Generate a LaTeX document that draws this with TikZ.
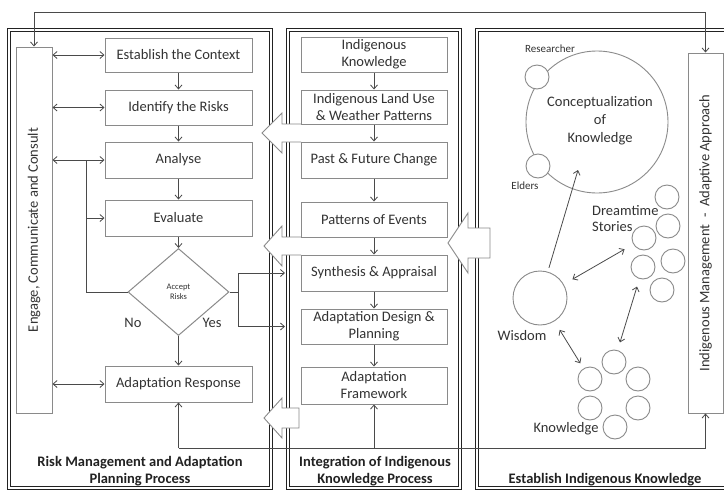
\documentclass[tikz,border=0pt]{standalone}
\usepackage{fontspec}
\setmainfont{Carlito}
\usetikzlibrary{arrows.meta,shapes.geometric}
\definecolor{txt}{HTML}{333333}
\definecolor{bx}{HTML}{8A8A8A}
\definecolor{pan}{HTML}{222222}
\definecolor{ln}{HTML}{4A4A4A}
\begin{document}
\begin{tikzpicture}[x=1pt,y=-1pt,
  font=\fontsize{14.5}{17}\selectfont,
  box/.style={draw=bx, line width=1pt, fill=white, text=txt, align=center, inner sep=0pt, minimum width=147pt},
  mbox/.style={box, minimum width=146pt},
  panel/.style={draw=pan, line width=0.9pt, double=white, double distance=1.5pt},
  arr/.style={draw=ln, line width=0.8pt, -{Straight Barb[length=4pt,width=7pt]}},
  darr/.style={draw=ln, line width=0.8pt, {Straight Barb[length=4pt,width=7pt]}-{Straight Barb[length=4pt,width=7pt]}},
  plain/.style={draw=ln, line width=0.8pt},
  blk/.style={draw=bx, line width=0.9pt, line join=miter},
  circ/.style={circle, draw=bx, line width=0.9pt, fill=white, inner sep=0pt},
  sc/.style={circ, minimum size=24pt},
  lbl/.style={text=txt, inner sep=0pt},
  small/.style={lbl, font=\fontsize{11}{13}\selectfont},
  ttl/.style={text=pan, font=\fontsize{14.5}{17}\selectfont\bfseries, align=center, inner sep=0pt}
]
\useasboundingbox (0,0) rectangle (724,493);
\fill[white] (0,0) rectangle (724,493);

% ---------- panels
\draw[panel] (9,30) rectangle (271,488);
\draw[panel] (288,30) rectangle (460,488);
\draw[panel] (727,30) -- (477,30) -- (477,488) -- (727,488);

% ---------- block arrows (hollow)
\fill[white] (301,124) -- (282,124) -- (282,113) -- (262,133) -- (282,153) -- (282,142) -- (301,142) -- cycle;
\draw[blk] (301,124) -- (282,124) -- (282,113) -- (262,133) -- (282,153) -- (282,142) -- (301,142);
\fill[white] (301,237) -- (282,237) -- (282,226) -- (264,246) -- (282,266) -- (282,255) -- (301,255) -- cycle;
\draw[blk] (301,237) -- (282,237) -- (282,226) -- (264,246) -- (282,266) -- (282,255) -- (301,255);
\filldraw[blk, fill=white] (299,408) -- (282,408) -- (282,398) -- (264,418) -- (282,438) -- (282,428) -- (299,428) -- cycle;
\filldraw[blk, fill=white] (490,228) -- (468,228) -- (468,213) -- (448,243) -- (468,273) -- (468,258) -- (490,258) -- cycle;

% ---------- left panel
\node[box, minimum width=36pt, minimum height=366pt] (eng) at (34,230) {};
\node[lbl, rotate=90] at (eng.center) {Engage, Communicate and Consult};
\node[box, minimum height=34pt] (ctx) at (178.5,55) {Establish the Context};
\node[box, minimum height=35pt] (risk) at (178.5,107.5) {Identify the Risks};
\node[box, minimum height=36pt] (ana) at (178.5,160) {Analyse};
\node[box, minimum height=36pt] (eva) at (178.5,218) {Evaluate};
\node[diamond, draw=bx, line width=1pt, fill=white, minimum width=101pt, minimum height=87pt,
      inner sep=0pt, align=center, text=txt, font=\fontsize{8.5}{10.5}\selectfont] (acc) at (178.5,292) {Accept\\Risks};
\node[box, minimum height=36pt] (resp) at (178.5,384) {Adaptation Response};

\draw[arr] (ctx) -- (risk);
\draw[arr] (risk) -- (ana);
\draw[arr] (ana) -- (eva);
\draw[arr] (eva) -- (acc);
\draw[arr] (acc) -- (resp);
\draw[darr] (eng.east |- ctx) -- (ctx.west);
\draw[darr] (eng.east |- risk) -- (risk.west);
\draw[darr] (eng.east |- ana) -- (ana.west);
\draw[darr] (eng.east |- resp) -- (resp.west);
\coordinate (nf) at (86,292);
\draw[plain] (acc.west) -- (nf) -- (nf |- ana);
\draw[arr] (nf |- eva) -- (eva.west);
\coordinate (yf) at (238,292);
\coordinate (ya) at (285,273);
\coordinate (yb) at (285,326.5);
\draw[plain] (acc.east) -- (yf);
\draw[arr] (yf) |- (ya);
\draw[arr] (yf) |- (yb);
\node[lbl] (no) at (133,323) {No};
\node[lbl] (yes) at (212,323) {Yes};

\node[ttl] (t1) at (140,471.5) {Risk Management and Adaptation\\Planning Process};

% ---------- middle panel
\node[mbox, minimum height=35pt] (ik) at (374,54.5) {Indigenous\\Knowledge};
\node[mbox, minimum height=34pt] (land) at (374,107) {Indigenous Land Use\\\& Weather Patterns};
\node[mbox, minimum height=36pt] (past) at (374,160) {Past \& Future Change};
\node[mbox, minimum height=35pt] (pat) at (374,219.5) {Patterns of Events};
\node[mbox, minimum height=36pt] (syn) at (374,273) {Synthesis \& Appraisal};
\node[mbox, minimum height=35pt] (des) at (374,326.5) {Adaptation Design \&\\Planning};
\node[mbox, minimum height=37pt] (fw) at (374,385.5) {Adaptation\\Framework};
\draw[arr] (ik) -- (land);
\draw[arr] (land) -- (past);
\draw[arr] (past) -- (pat);
\draw[arr] (pat) -- (syn);
\draw[arr] (syn) -- (des);
\draw[arr] (des) -- (fw);

\node[ttl] (t2) at (375,471.5) {Integration of Indigenous\\Knowledge Process};

% ---------- right panel
\node[box, minimum width=35pt, minimum height=360pt] (im) at (705.5,233) {};
\node[lbl, rotate=90] at (im.center) {Indigenous Management\ \ -\ \ Adaptive Approach};

\node[circ, minimum size=142pt] (big) at (597,122) {};
\node[lbl, align=center, font=\fontsize{14.5}{18}\selectfont] (concept) at (600,121) {Conceptualization\\of\\Knowledge};
\node[sc] (res) at (537,77) {};
\node[sc] (eld) at (538,166) {};
\node[small] (resl) at (550,49) {Researcher};
\node[small] (eldl) at (525,186) {Elders};

\node[circ, minimum size=54pt] (wis) at (540,298) {};
\node[lbl] (wisl) at (522,336) {Wisdom};

\node[sc] (d1) at (667,197) {};
\node[sc] (d2) at (668,226) {};
\node[sc] (d3) at (644,238) {};
\node[sc] (d4) at (643,267) {};
\node[sc] (d5) at (673,261) {};
\node[sc] (d6) at (662,290) {};
\node[lbl, align=left, anchor=west, font=\fontsize{14.5}{16}\selectfont] (dream) at (592,219) {Dreamtime\\Stories};

\node[sc] (k1) at (614,362) {};
\node[sc] (k2) at (590,379) {};
\node[sc] (k3) at (638,379) {};
\node[sc] (k4) at (590,408) {};
\node[sc] (k5) at (638,408) {};
\node[sc] (k6) at (615,427) {};
\node[lbl] (kl) at (566,429) {Knowledge};

\coordinate (wt) at (578,170);
\draw[arr, shorten <=4pt] (wis) -- (wt);
\draw[darr, shorten <=10pt, shorten >=10pt] (wis) -- (d3);
\draw[darr, shorten <=8pt, shorten >=8pt] (d4) -- (k1);
\draw[darr, shorten <=10pt, shorten >=6pt] (wis) -- (k2);

\node[ttl] (t3) at (605,480) {Establish Indigenous Knowledge};

% ---------- long feedback lines
\coordinate (tl) at (34,12);
\coordinate (tr) at (705.5,12);
\draw[plain] (tl) -- (tr);
\draw[arr] (tl) -- (eng.north);
\draw[arr] (tr) -- (im.north);

\coordinate (bl) at (178.5,448);
\coordinate (bm) at (374,448);
\coordinate (br) at (705.5,448);
\draw[plain] (bl) -- (br);
\draw[arr] (bl) -- (resp.south);
\draw[arr] (bm) -- (fw.south);
\draw[arr] (br) -- (im.south);
\end{tikzpicture}
\end{document}
